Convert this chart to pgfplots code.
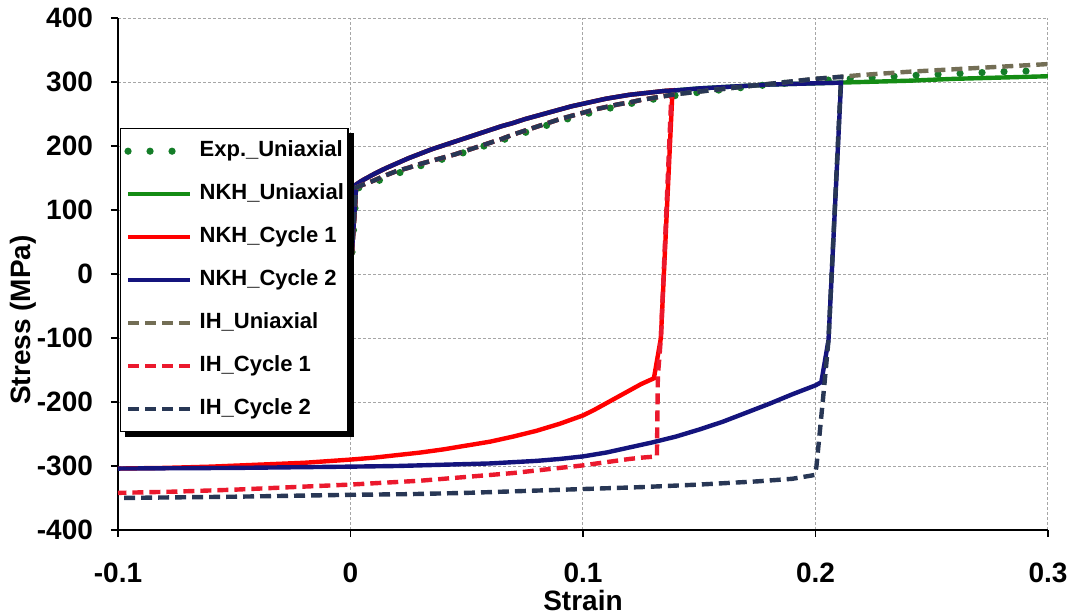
\documentclass[border=0pt]{standalone}
\usepackage{fontspec}
\setmainfont{Liberation Sans}
\usepackage{pgfplots}
\pgfplotsset{compat=1.18}

\definecolor{expgreen}{RGB}{20,125,40}
\definecolor{nkhgreen}{RGB}{20,140,20}
\definecolor{nkhred}{RGB}{255,0,0}
\definecolor{navy}{RGB}{20,20,125}
\definecolor{ihgray}{RGB}{115,110,85}
\definecolor{ihred}{RGB}{235,25,45}
\definecolor{ihslate}{RGB}{40,55,85}

\begin{document}
\begin{tikzpicture}
\useasboundingbox (-59pt,-43pt) rectangle (477.5pt,265pt);
\begin{axis}[
    at={(0,0)}, anchor=south west,
    scale only axis,
    width=465pt, height=256pt,
    xmin=-0.1, xmax=0.3,
    ymin=-400, ymax=400,
    xtick={-0.1,0,0.1,0.2,0.3},
    ytick={-400,-300,-200,-100,0,100,200,300,400},
    axis lines=left,
    axis line style={-,black,line width=1pt},
    tick align=outside,
    major tick length=3.5pt,
    tick style={black,line width=0.8pt},
    grid=major,
    major grid style={gray!70,line width=0.5pt,dash pattern=on 1.5pt off 1pt},
    /pgf/number format/assume math mode=true,
    ticklabel style={font=\bfseries\fontsize{14}{16}\selectfont},
    xticklabel style={yshift=-9.5pt},
    yticklabel style={xshift=-5.5pt},
    xlabel={Strain},
    ylabel={Stress (MPa)},
    label style={font=\bfseries\fontsize{14}{16}\selectfont},
    xlabel style={at={(axis description cs:0.5,0)}, anchor=north, yshift=-26.5pt},
    ylabel style={at={(axis description cs:-0.102,0.41)}, anchor=center},
    legend cell align=left,
    legend image code/.code={\draw[#1] (0pt,0pt) -- (31pt,0pt);},
    legend style={
        name=leg,
        at={(0.002,0.785)}, anchor=north west,
        draw=black, line width=0.6pt, fill=white,
        font=\bfseries\fontsize{11}{13}\selectfont,
        nodes={inner sep=0pt, text height=8pt, text depth=2.5pt},
        row sep=11pt, column sep=3pt,
        inner xsep=2pt, inner ysep=6pt,
    },
]

% Exp._Uniaxial
\addplot[expgreen, line width=3.6pt, line cap=round, dash pattern=on 0pt off 11pt] coordinates {
    (0,0) (0.0025,133) (0.005,137) (0.01,143) (0.015,150) (0.02,157) (0.03,169)
    (0.04,180) (0.05,191) (0.06,203) (0.07,215) (0.08,227) (0.09,239) (0.1,249)
    (0.11,258) (0.12,266) (0.13,273) (0.14,279) (0.15,284) (0.16,288) (0.17,292)
    (0.18,296) (0.19,299) (0.2,302) (0.22,306) (0.24,310) (0.26,313) (0.28,316) (0.3,318)
};
\addlegendentry{Exp.\_Uniaxial}

% NKH_Uniaxial
\addplot[nkhgreen, line width=2.2pt] coordinates {
    (0,0) (0.0025,140) (0.005,146) (0.0075,151) (0.01,156) (0.015,165) (0.02,173)
    (0.025,181) (0.03,188) (0.035,195) (0.04,201) (0.045,207) (0.05,213) (0.055,219)
    (0.06,225) (0.065,231) (0.07,236) (0.075,242) (0.08,247) (0.085,252) (0.09,257)
    (0.095,262) (0.1,266) (0.105,270) (0.11,274) (0.115,277) (0.12,280) (0.125,282)
    (0.13,284) (0.135,286) (0.14,287) (0.15,290) (0.16,292) (0.17,294) (0.18,296)
    (0.19,297) (0.2,298) (0.21,299) (0.22,300) (0.24,302) (0.26,305) (0.28,307) (0.3,309)
};
\addlegendentry{NKH\_Uniaxial}

% NKH_Cycle 1
\addplot[nkhred, line width=2.2pt] coordinates {
    (0,0) (0.0025,140) (0.005,146) (0.0075,151) (0.01,156) (0.015,165) (0.02,173)
    (0.025,181) (0.03,188) (0.035,195) (0.04,201) (0.045,207) (0.05,213) (0.055,219)
    (0.06,225) (0.065,231) (0.07,236) (0.075,242) (0.08,247) (0.085,252) (0.09,257)
    (0.095,262) (0.1,266) (0.105,270) (0.11,274) (0.115,277) (0.12,280) (0.125,282)
    (0.13,284) (0.135,286) (0.1385,287)
    (0.1335,-100) (0.1305,-163) (0.125,-172) (0.12,-182) (0.115,-192) (0.11,-202)
    (0.105,-212) (0.1,-221) (0.09,-234) (0.08,-245) (0.07,-254) (0.06,-262)
    (0.05,-268) (0.04,-274) (0.03,-279) (0.02,-283) (0.01,-287) (0,-290)
    (-0.02,-295) (-0.04,-298) (-0.06,-301) (-0.08,-303) (-0.1,-304)
};
\addlegendentry{NKH\_Cycle 1}

% NKH_Cycle 2
\addplot[navy, line width=2.2pt] coordinates {
    (0,0) (0.0025,140) (0.005,146) (0.0075,151) (0.01,156) (0.015,165) (0.02,173)
    (0.025,181) (0.03,188) (0.035,195) (0.04,201) (0.045,207) (0.05,213) (0.055,219)
    (0.06,225) (0.065,231) (0.07,236) (0.075,242) (0.08,247) (0.085,252) (0.09,257)
    (0.095,262) (0.1,266) (0.105,270) (0.11,274) (0.115,277) (0.12,280) (0.125,282)
    (0.13,284) (0.135,286) (0.14,287) (0.15,290) (0.16,292) (0.17,294) (0.18,296)
    (0.19,297) (0.2,298) (0.211,299)
    (0.2056,-103) (0.2025,-169) (0.2,-174) (0.19,-188) (0.18,-203) (0.17,-217)
    (0.16,-231) (0.15,-243) (0.14,-254) (0.13,-263) (0.12,-271) (0.11,-279)
    (0.1,-285) (0.09,-289) (0.08,-292) (0.07,-294) (0.06,-296) (0.05,-297)
    (0.04,-298) (0.02,-300) (0,-301) (-0.05,-303) (-0.1,-304)
};
\addlegendentry{NKH\_Cycle 2}

% IH_Uniaxial
\addplot[ihgray, line width=2.2pt, dash pattern=on 5.5pt off 3pt] coordinates {
    (0,0) (0.0025,135) (0.005,139) (0.01,146) (0.015,154) (0.02,161) (0.025,166)
    (0.03,172) (0.035,177) (0.04,182) (0.045,187) (0.05,193) (0.055,199) (0.06,205)
    (0.065,211) (0.07,218) (0.075,224) (0.08,230) (0.085,236) (0.09,242) (0.095,247)
    (0.1,252) (0.105,257) (0.11,261) (0.115,265) (0.12,268) (0.125,272) (0.13,275)
    (0.135,278) (0.14,281) (0.15,285) (0.16,289) (0.17,293) (0.18,297) (0.19,301)
    (0.2,305) (0.21,308) (0.22,311) (0.24,316) (0.26,320) (0.28,324) (0.3,328)
};
\addlegendentry{IH\_Uniaxial}

% IH_Cycle 1
\addplot[ihred, line width=2.2pt, dash pattern=on 5.5pt off 3pt] coordinates {
    (0,0) (0.0025,135) (0.005,139) (0.01,146) (0.015,154) (0.02,161) (0.025,166)
    (0.03,172) (0.035,177) (0.04,182) (0.045,187) (0.05,193) (0.055,199) (0.06,205)
    (0.065,211) (0.07,218) (0.075,224) (0.08,230) (0.085,236) (0.09,242) (0.095,247)
    (0.1,252) (0.105,257) (0.11,261) (0.115,265) (0.12,268) (0.125,272) (0.13,275)
    (0.135,278) (0.138,279)
    (0.1335,-100) (0.1322,-160) (0.1318,-285) (0.125,-287) (0.12,-289) (0.11,-294)
    (0.1,-299) (0.09,-303) (0.08,-307) (0.07,-311) (0.06,-314) (0.05,-317)
    (0.04,-320) (0.03,-323) (0.02,-325) (0.01,-327) (0,-329) (-0.025,-333)
    (-0.05,-337) (-0.075,-340) (-0.1,-342)
};
\addlegendentry{IH\_Cycle 1}

% IH_Cycle 2
\addplot[ihslate, line width=2.2pt, dash pattern=on 5.5pt off 3pt] coordinates {
    (0,0) (0.0025,135) (0.005,139) (0.01,146) (0.015,154) (0.02,161) (0.025,166)
    (0.03,172) (0.035,177) (0.04,182) (0.045,187) (0.05,193) (0.055,199) (0.06,205)
    (0.065,211) (0.07,218) (0.075,224) (0.08,230) (0.085,236) (0.09,242) (0.095,247)
    (0.1,252) (0.105,257) (0.11,261) (0.115,265) (0.12,268) (0.125,272) (0.13,275)
    (0.135,278) (0.14,281) (0.15,285) (0.16,289) (0.17,293) (0.18,297) (0.19,301)
    (0.2,305) (0.211,308)
    (0.2056,-103) (0.2039,-170) (0.2015,-260) (0.2004,-301) (0.1997,-314)
    (0.19,-320) (0.175,-324) (0.15,-329) (0.125,-333) (0.1,-336) (0.075,-339)
    (0.05,-342) (0.025,-344) (0,-345) (-0.05,-348) (-0.1,-350)
};
\addlegendentry{IH\_Cycle 2}

\end{axis}
% legend shadow (right and bottom)
\fill[black] ([yshift=-2.5pt]leg.north east) rectangle ([xshift=2.5pt,yshift=-2.5pt]leg.south east);
\fill[black] ([xshift=2.5pt]leg.south west) rectangle ([xshift=2.5pt,yshift=-2.5pt]leg.south east);
\end{tikzpicture}
\end{document}
